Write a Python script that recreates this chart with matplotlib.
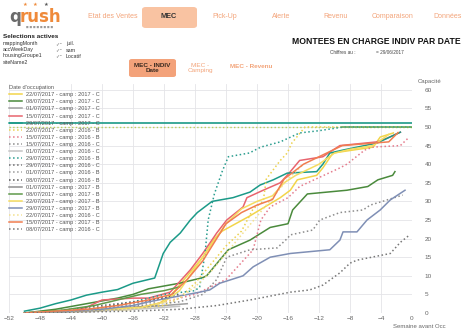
import matplotlib
matplotlib.use("Agg")
import matplotlib.pyplot as plt
from matplotlib.patches import FancyBboxPatch

plt.rcParams["font.family"] = ["Liberation Sans", "DejaVu Sans"]

W, H = 472, 336

# week offsets (weeks before occupation date) and bookings
S01_W = [-50, -42, -36, -33, -31, -29, -27, -25.5, -24.5, -21, -19, -17, -15.7, -14.8, -12.3, -11.5, -10.2, -5, -4.1, -2.4]
S01_V = [0, 0.5, 1, 2, 5, 10, 15, 20, 22, 26, 28.5, 31, 33, 35.8, 37, 39, 43, 44.6, 47.3, 48.4]
S02_W = [-50, -46, -42, -38, -36, -34, -30, -27, -26.5, -23.7, -20.9, -18.3, -16, -15.4, -13.5, -8.4, -5.7, -4.4, -2.5, -2.2]
S02_V = [0, 1, 2.5, 4, 5, 6.5, 8, 9.5, 10, 17, 19.6, 23, 24, 27.7, 32, 33, 34, 35.8, 37, 38]
S03_W = [-50, -44, -40, -36, -32, -29]
S03_V = [0, 0.5, 1, 1.5, 2, 2.5]
S04_W = [-50, -44, -42, -40, -36, -34, -31.2, -28.6, -27, -25.2, -23.9, -21.8, -21.3, -19.2, -17, -16.1, -14.5, -11.5, -10.8, -9.3, -4.5, -3.2, -1.5]
S04_V = [0, 0.5, 1.5, 3.5, 4, 4, 5.6, 11.6, 16, 21.5, 25, 28.5, 31, 33, 35, 37, 41, 42, 43, 45, 46, 47, 48.6]
S05_W = [-50, -48, -46, -44, -42, -40, -38, -36, -34, -33.2, -32.1, -31.2, -29.9, -28.6, -27.7, -25.8, -23.1, -20.9, -19.6, -17.9, -16.1, -12.3, -11.5, -10.6, -8.9, -4.5, -1.5]
S05_V = [0.5, 1.3, 2.5, 3.5, 4.8, 5.6, 6.3, 8, 9, 9.4, 16, 19, 21.5, 25, 27, 30, 31, 32.5, 34.4, 35.8, 37.6, 38, 40, 43, 43.8, 45.7, 48.6]
S06_W = [-50, -42, -36, -32, -30, -28, -26, -24, -22, -20.5, -19.2, -18.8, -17, -16.1, -15.5, -13.8, -10, -5, 0]
S06_V = [0, 0.5, 1, 2, 4, 8, 13, 18, 22, 28, 30, 36, 41, 43, 45.7, 50, 50, 50, 50]
S07_W = [-50, -40, -34, -28, -24, -20.5, -19.5, -18.3, -16, -14.5, -9.3, -8.4, -6.1, -5, -1.5, -0.5]
S07_V = [0, 0.5, 2, 5, 9, 17, 25, 28.5, 31, 34, 39, 40, 43.8, 44.6, 45, 47]
S08_W = [-50, -40, -30, -27, -25.2, -23.9, -20.9, -17.4, -16.1, -15.7, -12.8, -11.9, -9.3, -6.3, -5.4, -3.2, -1.2]
S08_V = [0, 1, 3, 5, 9, 15, 17, 17.5, 20, 21, 22.3, 25, 27, 27.7, 29, 30.4, 31.7]
S09_W = [-50, -42, -38, -34, -30]
S09_V = [0, 0.3, 0.8, 1.2, 1.8]
S10_W = [-50, -44, -40, -36, -32, -28, -27.4, -26.7, -26.3, -25.5, -24.5, -23.7, -21, -19.5, -17, -14.5, -12, -8.9, -4, 0]
S10_V = [0, 0.5, 1.5, 3, 5, 6, 7, 16, 25, 32, 38, 42, 43, 44.6, 46, 48.4, 49, 50, 50, 50]
S11_W = [-50, -46, -42, -38, -34, -31]
S11_V = [0, 0.5, 1.5, 2.5, 3.5, 4.5]
S12_W = [-50, -44, -40, -36, -33]
S12_V = [0, 0.4, 1.2, 2.2, 3]
S13_W = [-50, -43, -39, -35, -32, -30]
S13_V = [0, 0.6, 1.8, 3, 4, 5]
S14_W = [-50, -45, -41, -37, -33]
S14_V = [0, 0.3, 0.7, 1.3, 2]
S15_W = [-50, -45, -41, -38, -35, -32, -30]
S15_V = [0, 0.8, 2, 3.5, 5, 6, 7]
S16_W = [-50, -40, -35, -32, -30, -28, -26, -24, -22, -20, -18, -16.5, -15, -12, -10, -8, -5, -3]
S16_V = [0, 1, 1.5, 3, 6, 12, 18, 24, 28, 30, 31.5, 35, 37, 40, 43, 44, 45, 48]
S17_W = [-50, -44, -40, -36, -34, -27.4, -26.1, -24.8, -21.8, -20.5, -18.3, -15.7, -10.6, -9.3, -8.9, -7.1, -5.8, -4.1, -2.8, -0.9]
S17_V = [0, 0.5, 1, 2, 3, 5.6, 6.2, 8, 10, 12.4, 15, 16, 17, 19.6, 21.8, 21.8, 25, 27.7, 30.4, 33]
S18_W = [-50, -40, -34, -30, -28, -26, -24, -22, -20, -18, -16, -14]
S18_V = [0, 0.5, 1.5, 4, 7, 11, 16, 21, 26, 31, 36, 40]
S19_W = [-50, -42, -38, -34, -31, -29, -27, -25.5, -24, -22, -20, -18, -16.5, -14, -11, -9, -6, -3, -1.8]
S19_V = [0, 1, 2, 3.5, 5, 9, 14, 19, 24, 27, 29, 30.5, 36, 40, 43, 45, 45.5, 46, 48.5]
S20_W = [-50, -36, -30, -25.2, -20.9, -15.7, -13.2, -11.5, -9.3, -8, -7.1, -2.8, -1.5, -0.3]
S20_V = [0, 0.5, 1, 2, 3.5, 5.6, 6.2, 7.5, 10.8, 13.4, 14.2, 16, 19, 21]

LABELS = [
    "22/07/2017 - camp : 2017 - C", "08/07/2017 - camp : 2017 - C",
    "01/07/2017 - camp : 2017 - C", "15/07/2017 - camp : 2017 - C",
    "29/07/2017 - camp : 2017 - C", "22/07/2017 - camp : 2016 - B",
    "15/07/2017 - camp : 2016 - B", "15/07/2017 - camp : 2016 - C",
    "01/07/2017 - camp : 2016 - C", "29/07/2017 - camp : 2016 - B",
    "29/07/2017 - camp : 2016 - C", "01/07/2017 - camp : 2016 - B",
    "08/07/2017 - camp : 2016 - B", "01/07/2017 - camp : 2017 - B",
    "08/07/2017 - camp : 2017 - B", "22/07/2017 - camp : 2017 - B",
    "29/07/2017 - camp : 2017 - B", "22/07/2017 - camp : 2016 - C",
    "15/07/2017 - camp : 2017 - B", "08/07/2017 - camp : 2016 - C",
]
WEEKS = [S01_W, S02_W, S03_W, S04_W, S05_W, S06_W, S07_W, S08_W, S09_W, S10_W,
         S11_W, S12_W, S13_W, S14_W, S15_W, S16_W, S17_W, S18_W, S19_W, S20_W]
VALUES = [S01_V, S02_V, S03_V, S04_V, S05_V, S06_V, S07_V, S08_V, S09_V, S10_V,
          S11_V, S12_V, S13_V, S14_V, S15_V, S16_V, S17_V, S18_V, S19_V, S20_V]

# capacity lines
CAP_2017 = 51
CAP_2016 = 50
CAP_SEG_W = [-9, 0]
CAP_SEG_V = [50, 50]

COLORS = [
    "#f2d54a", "#4a8a3c", "#a0a0a0", "#e8646e", "#1b9a88",
    "#ecd24f", "#e57b8c", "#8c8c8c", "#c4c4c4", "#2a9d8f",
    "#6e6e6e", "#9a9a9a", "#555555", "#8f8f8f", "#5f9a4a",
    "#f5dc60", "#7f8fb5", "#f3e08c", "#f07d50", "#777777",
]
STYLES = ["-", "-", "-", "-", "-", ":", ":", ":", "-", ":",
          ":", ":", ":", "-", "-", "-", "-", ":", "-", ":"]

fig = plt.figure(figsize=(W / 100, H / 100), dpi=100)


def px(x, y):
    return x / W, 1 - y / H


orange = "#f3a47a"
# logo
fig.text(*px(9, 22), "q", fontsize=12, fontweight="bold", color="#6b6b6b", family="DejaVu Sans", va="baseline")
fig.text(*px(19.5, 22), "rush", fontsize=12, fontweight="bold", color="#ef8a3a", family="DejaVu Sans", va="baseline")
for sx, sc in [(25, "#ef8a3a"), (35, "#ef8a3a"), (46, "#555555")]:
    fig.text(*px(sx, 4.5), "★", fontsize=3.8, color=sc, family="DejaVu Sans", ha="center", va="center")
fig.text(*px(40, 27), "■ ■ ■ ■ ■ ■ ■ ■", fontsize=2, color="#9a9a9a", family="DejaVu Sans", ha="center", va="center")

# navigation
fig.patches.append(FancyBboxPatch(px(142, 28), 55 / W, 21 / H, boxstyle="round,pad=0,rounding_size=0.008",
                                  transform=fig.transFigure, facecolor="#f9c3a2", edgecolor="none"))
fig.text(*px(169, 17), "MEC", fontsize=5.3, fontweight="bold", color="#333333", ha="center", va="center")
for tx, t in [(113, "Etat des Ventes"), (225, "Pick-Up"), (281, "Alerte"), (336, "Revenu"),
              (393, "Comparaison"), (448, "Données")]:
    fig.text(*px(tx, 17), t, fontsize=5, color=orange, ha="center", va="center")

# selections
fig.text(*px(3, 36), "Selections actives", fontsize=4.6, fontweight="bold", color="#222222", va="center")
for i, (k, v) in enumerate([("mappingMonth", "juil."), ("accWeekDay", "sam"),
                            ("housingGroupe1", "Locatif"), ("siteName2", "")]):
    y = 44 + i * 6
    fig.text(*px(3, y), k, fontsize=3.8, color="#333333", va="center")
    if v:
        fig.text(*px(55, y), "✓", fontsize=3.6, color="#777777", family="DejaVu Sans", va="center")
        fig.text(*px(60, y), "-", fontsize=3.8, color="#333333", va="center")
        fig.text(*px(66, y), v, fontsize=3.8, color="#333333", va="center")

# title block
fig.text(*px(376, 41), "MONTEES EN CHARGE INDIV PAR DATE", fontsize=6.2, fontweight="bold", color="#111111",
         ha="center", va="center")
fig.text(*px(330, 53), "Chiffres au :", fontsize=3.4, color="#444444", va="center")
fig.text(*px(376, 53), "= 29/06/2017", fontsize=3.4, color="#444444", va="center")

# sub buttons
fig.patches.append(FancyBboxPatch(px(129, 77), 47 / W, 18 / H, boxstyle="round,pad=0,rounding_size=0.006",
                                  transform=fig.transFigure, facecolor="#f3a27a", edgecolor="none"))
fig.text(*px(152.5, 68), "MEC - INDIV\nDate", fontsize=4.6, fontweight="bold", color="#3a2a20",
         ha="center", va="center", linespacing=1.2)
fig.text(*px(200, 68), "MEC -\nCamping", fontsize=4.6, color=orange, ha="center", va="center", linespacing=1.2)
fig.text(*px(251, 67), "MEC - Revenu", fontsize=4.6, fontweight="bold", color=orange, ha="center", va="center")

# chart
ax = fig.add_axes([9 / W, (H - 313) / H, 403 / W, 228.8 / H])
ax.axhline(CAP_2017, color="#1b9a88", lw=1.2, zorder=3)
ax.axhline(CAP_2016, color="#b9cf5a", lw=1.0, ls=":", zorder=3)
ax.plot(CAP_SEG_W, CAP_SEG_V, color="#5aa04a", lw=1.1, zorder=3)

handles = []
for lab, wk, val, col, st in zip(LABELS, WEEKS, VALUES, COLORS, STYLES):
    (ln,) = ax.plot(wk, val, color=col, ls=st, lw=1.1, label=lab, zorder=4)
    handles.append(ln)

ax.set_xlim(-52, 0)
ax.set_ylim(0, 61.5)
ax.set_xticks(range(-52, 1, 4))
ax.set_yticks(range(0, 61, 5))
ax.yaxis.tick_right()
ax.tick_params(axis="x", length=0, labelsize=4.6, labelcolor="#666666", pad=2)
ax.tick_params(axis="y", length=0, labelsize=4.6, labelcolor="#666666", pad=9)
ax.grid(True, color="#e4e4e8", lw=0.6)
ax.set_axisbelow(True)
for sp in ax.spines.values():
    sp.set_visible(False)

leg = ax.legend(handles=handles, loc="upper left", bbox_to_anchor=px(8, 84), bbox_transform=fig.transFigure,
                frameon=False, fontsize=4.1, labelspacing=0.37, handlelength=2.3, handletextpad=0.7,
                borderpad=0.2, borderaxespad=0, title="Date d'occupation", title_fontsize=4.1,
                alignment="left")
leg.get_title().set_color("#555555")
for t in leg.get_texts():
    t.set_color("#555555")

fig.text(*px(418, 81), "Capacité", fontsize=4.3, color="#666666", va="center")
fig.text(*px(393, 327), "Semaine avant Occ", fontsize=4.3, color="#666666", va="center")

fig.savefig("out.png", dpi=100)
